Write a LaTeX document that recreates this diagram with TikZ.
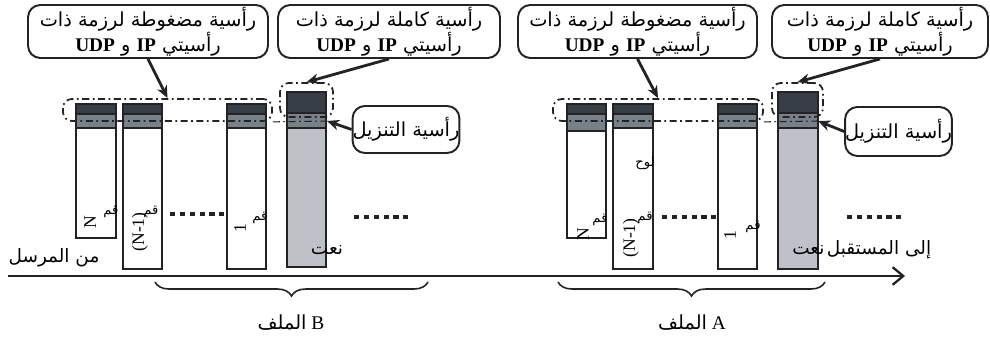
\documentclass[tikz,border=0pt]{standalone}
\usepackage{fontspec}
\setmainfont{Liberation Serif}
\newfontfamily\arabicfont[Script=Arabic]{DejaVu Sans}
\TeXXeTstate=1
\usetikzlibrary{arrows.meta, positioning, decorations.pathreplacing}
\definecolor{inkdark}{RGB}{35,35,38}
\definecolor{hdrdark}{RGB}{55,62,69}
\definecolor{hdrgray}{RGB}{120,128,136}
\definecolor{tagfill}{RGB}{190,193,199}
\tikzset{
  callout/.style={draw=inkdark, fill=white, line width=1.1pt, rounded corners=7pt,
    align=center, inner sep=0pt, font=\arabicfont\fontsize{11}{14}\selectfont},
  grpbox/.style={draw=inkdark, line width=1pt, rounded corners=5pt, inner sep=0pt,
    dash pattern=on 4pt off 2pt on 1pt off 2pt},
  hdrline/.style={draw=inkdark, line width=0.6pt, dash pattern=on 4pt off 2pt on 1pt off 2pt},
  arrow/.style={-{Stealth[length=7pt, width=6pt]}, line width=1.6pt, color=inkdark},
  timeline/.style={-{Straight Barb[length=6pt, width=10pt]}, line width=1.3pt, color=inkdark},
  barline/.style={draw=inkdark, line width=0.8pt},
  dotrow/.style={line width=2.6pt, dash pattern=on 3pt off 2.6pt, color=inkdark},
  lbl/.style={font=\arabicfont\fontsize{10.5}{12}\selectfont, inner sep=0pt},
  seq/.style={font=\fontsize{10}{11}\selectfont, rotate=90, inner sep=0pt},
  numtag/.style={font=\arabicfont\fontsize{7.5}{8}\selectfont, inner sep=0pt},
  filebrace/.style={decorate, decoration={brace, amplitude=8pt}, line width=0.9pt, color=inkdark}
}
% latin word inside right-to-left text
\newcommand{\ltn}[1]{\beginL{\rmfamily\bfseries #1}\endL}
% one packet: left, right, top, dark end, gray end, bottom, body fill
\newcommand{\pktbar}[7]{%
  \fill[#7] (#1,#5) rectangle (#2,#6);
  \fill[hdrdark] (#1,#3) rectangle (#2,#4);
  \fill[hdrgray] (#1,#4) rectangle (#2,#5);
  \draw[barline] (#1,#3) rectangle (#2,#6) (#1,#4) -- (#2,#4) (#1,#5) -- (#2,#5);
}

\begin{document}
\begin{tikzpicture}[x=0.02cm, y=-0.02cm]
    \useasboundingbox (0,0) rectangle (990,340);

    % File B packets
    \pktbar{76}{116}{104}{114}{128}{238}{white}
    \pktbar{123}{162}{104}{114}{128}{269}{white}
    \pktbar{227}{266}{104}{114}{128}{269}{white}
    \pktbar{287}{326}{92}{113}{128}{267}{tagfill}

    % File A packets
    \pktbar{567}{606}{104}{114}{131}{238}{white}
    \pktbar{613}{653}{104}{114}{128}{269}{white}
    \pktbar{718}{757}{104}{114}{128}{269}{white}
    \pktbar{778}{818}{92}{113}{128}{269}{tagfill}

    % dashed header groups
    \node[grpbox, minimum width=4.18cm, minimum height=0.44cm] (grpB) at (167.5,110) {};
    \node[grpbox, minimum width=1.06cm, minimum height=0.68cm] (topB) at (306.5,100) {};
    \coordinate (dlB) at (327,121);
    \draw[hdrline] (grpB.south east) -- (dlB);

    \node[grpbox, minimum width=4.2cm, minimum height=0.44cm] (grpA) at (658,110) {};
    \node[grpbox, minimum width=1.02cm, minimum height=0.68cm] (topA) at (797.5,100) {};
    \coordinate (dlA) at (818,121);
    \draw[hdrline] (grpA.south east) -- (dlA);

    % callouts
    \node[callout, minimum width=4.8cm, minimum height=1.06cm] (cmpB) at (148,31.5)
      {\beginR رأسية مضغوطة لرزمة ذات\endR\\ \beginR رأسيتي \ltn{IP} و \ltn{UDP}\endR};
    \node[callout, minimum width=4.44cm, minimum height=1.06cm] (fullB) at (389,31.5)
      {\beginR رأسية كاملة لرزمة ذات\endR\\ \beginR رأسيتي \ltn{IP} و \ltn{UDP}\endR};
    \node[callout, minimum width=2.04cm, minimum height=0.94cm] (dlcB) at (406,129.5)
      {\beginR رأسية التنزيل\endR};

    \node[callout, minimum width=4.78cm, minimum height=1.06cm] (cmpA) at (637.5,31.5)
      {\beginR رأسية مضغوطة لرزمة ذات\endR\\ \beginR رأسيتي \ltn{IP} و \ltn{UDP}\endR};
    \node[callout, minimum width=4.32cm, minimum height=1.06cm] (fullA) at (880,31.5)
      {\beginR رأسية كاملة لرزمة ذات\endR\\ \beginR رأسيتي \ltn{IP} و \ltn{UDP}\endR};
    \node[callout, minimum width=2.02cm, minimum height=0.98cm] (dlcA) at (898.5,131.5)
      {\beginR رأسية التنزيل\endR};

    \draw[arrow] (cmpB.south) -- (grpB.north);
    \draw[arrow] (fullB.south) -- (topB.north);
    \draw[arrow] (dlcB.west) -- (dlB);
    \draw[arrow] (cmpA.south) -- (grpA.north);
    \draw[arrow] (fullA.south) -- (topA.north);
    \draw[arrow] (dlcA.west) -- (dlA);

    % packet numbers
    \node[seq] (nB) at (90,222) {N};
    \node[numtag] (qnB) at (111,212) {\beginR قم\endR};
    \node[seq] (mB) at (140,232) {(N-1)};
    \node[numtag] (qmB) at (151,212) {\beginR قم\endR};
    \node[seq] (oneB) at (240,228) {1};
    \node[numtag] (qoB) at (260,218) {\beginR قم\endR};

    \node[seq] (nA) at (583,234) {N};
    \node[numtag] (qnA) at (600,220) {\beginR قم\endR};
    \node[seq] (mA) at (631,238) {(N-1)};
    \node[numtag] (qmA) at (645,218) {\beginR قم\endR};
    \node[numtag] (slabA) at (645,163) {\beginR لوح\endR};
    \node[seq] (oneA) at (730,235) {1};
    \node[numtag] (qoA) at (753,227) {\beginR قم\endR};

    % dots
    \coordinate (dotB1) at (170,214); \coordinate (dotB2) at (226,214);
    \coordinate (dotB3) at (354,217); \coordinate (dotB4) at (410,217);
    \coordinate (dotA1) at (662,217); \coordinate (dotA2) at (718,217);
    \coordinate (dotA3) at (847,217); \coordinate (dotA4) at (903,217);
    \draw[dotrow] (dotB1) -- (dotB2);
    \draw[dotrow] (dotB3) -- (dotB4);
    \draw[dotrow] (dotA1) -- (dotA2);
    \draw[dotrow] (dotA3) -- (dotA4);

    % side labels
    \node[lbl] (tagB) at (327,250) {\beginR نعت\endR};
    \node[lbl] (from) at (54,258) {\beginR من المرسل\endR};
    \node[lbl] (to) at (879,250) {\beginR إلى المستقبل\endR};
    \node[lbl, left=1pt of to] (tagA) {\beginR نعت\endR};

    % time line
    \coordinate (src) at (8,276);
    \coordinate (dst) at (905,276);
    \draw[timeline] (src) -- (dst);

    % file braces
    \coordinate (brB1) at (428,282); \coordinate (brB2) at (155,282);
    \coordinate (brA1) at (825,282); \coordinate (brA2) at (558,282);
    \draw[filebrace] (brB1) -- (brB2);
    \draw[filebrace] (brA1) -- (brA2);
    \node[lbl, font=\fontsize{11}{12}\selectfont] (fileB) at (291,323) {{\arabicfont\beginR الملف\endR} B};
    \node[lbl, font=\fontsize{11}{12}\selectfont] (fileA) at (692,323) {{\arabicfont\beginR الملف\endR} A};
\end{tikzpicture}
\end{document}
